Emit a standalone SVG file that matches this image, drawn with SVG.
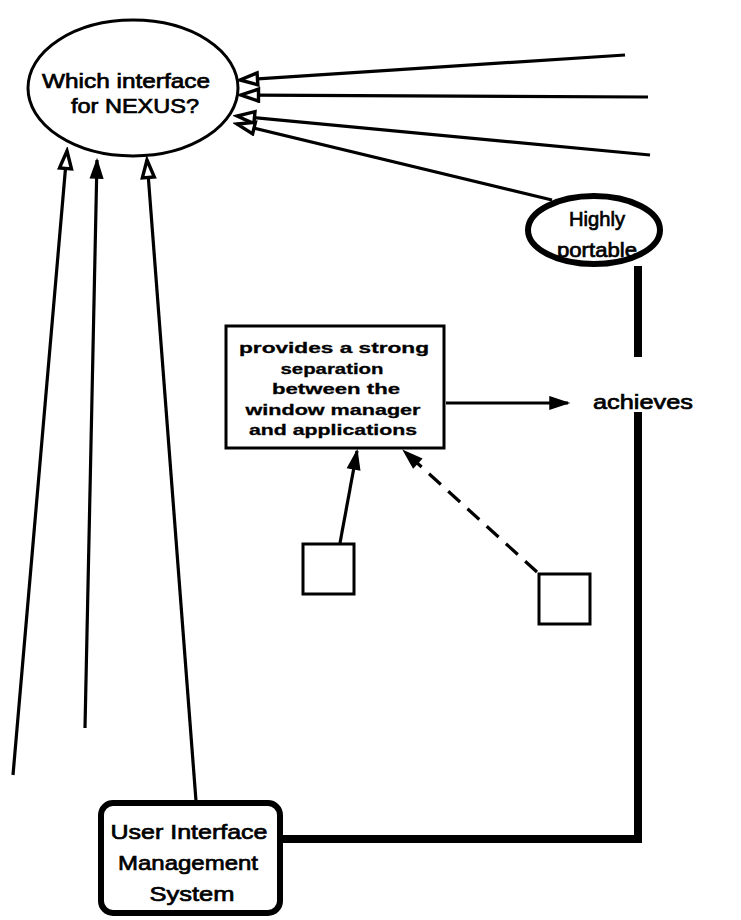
<svg xmlns="http://www.w3.org/2000/svg" width="741" height="920" viewBox="0 0 741 920">
  <style>
    .node { fill: #fff; stroke: #000; }
    .lbl { font-family: "Liberation Sans", Arial, sans-serif; fill: #000; text-anchor: middle; }
    .big { font-size: 21px; stroke: #000; stroke-width: 0.7; }
    .small { font-size: 15px; font-weight: bold; stroke: #000; stroke-width: 0.3; }
    .conn { fill: none; stroke: #000; stroke-width: 3.2; }
    .thick { fill: none; stroke: #000; stroke-width: 8; }
  </style>
  <defs>
    <marker id="hollow" markerUnits="userSpaceOnUse" markerWidth="24" markerHeight="18" refX="20" refY="8" orient="auto">
      <path d="M2.5,2 L20,8 L2.5,14 z" fill="#fff" stroke="#000" stroke-width="3.4"/>
    </marker>
    <marker id="solid" markerUnits="userSpaceOnUse" markerWidth="24" markerHeight="18" refX="20" refY="8" orient="auto">
      <path d="M2,2 L20,8 L2,14 z" fill="#000" stroke="#000" stroke-width="1.5"/>
    </marker>
  </defs>

  <!-- connectors -->
  <g id="connectors">
    <line class="conn" x1="625" y1="55" x2="240" y2="80" marker-end="url(#hollow)"/>
    <line class="conn" x1="648" y1="97" x2="241" y2="95" marker-end="url(#hollow)"/>
    <line class="conn" x1="650" y1="155" x2="237" y2="116" marker-end="url(#hollow)"/>
    <line class="conn" x1="552" y1="200" x2="237" y2="124" marker-end="url(#hollow)"/>
    <line class="conn" x1="13" y1="775" x2="67" y2="151" marker-end="url(#hollow)"/>
    <line class="conn" x1="85" y1="728" x2="97" y2="160" marker-end="url(#solid)"/>
    <line class="conn" x1="196" y1="801" x2="147" y2="160" marker-end="url(#hollow)"/>
    <line class="conn" x1="446" y1="403" x2="568" y2="403" marker-end="url(#solid)"/>
    <line class="conn" x1="340" y1="543" x2="357" y2="451" marker-end="url(#solid)"/>
    <line class="conn" x1="537" y1="572" x2="404" y2="451" stroke-dasharray="16 10" marker-end="url(#solid)"/>
    <path class="thick" d="M638,266 V357"/>
    <path class="thick" d="M638,412 V839 H282"/>
  </g>

  <g id="question">
    <ellipse class="node" cx="133" cy="88" rx="105" ry="68" stroke-width="3"/>
    <text class="lbl big" x="126" y="88" textLength="168" lengthAdjust="spacingAndGlyphs">Which interface</text>
    <text class="lbl big" x="135" y="113" textLength="128" lengthAdjust="spacingAndGlyphs">for NEXUS?</text>
  </g>

  <g id="portable">
    <ellipse class="node" cx="594" cy="230" rx="66" ry="34" stroke-width="6"/>
    <text class="lbl big" x="597" y="226" textLength="56" lengthAdjust="spacingAndGlyphs">Highly</text>
    <text class="lbl big" x="597" y="257" textLength="80" lengthAdjust="spacingAndGlyphs">portable</text>
  </g>

  <g id="achieves">
    <text class="lbl big" x="643" y="409" textLength="100" lengthAdjust="spacingAndGlyphs">achieves</text>
  </g>

  <g id="separation">
    <rect class="node" x="226" y="326" width="218" height="122" stroke-width="3"/>
    <text class="lbl small" x="334" y="353" textLength="190" lengthAdjust="spacingAndGlyphs">provides a strong</text>
    <text class="lbl small" x="332" y="374" textLength="103" lengthAdjust="spacingAndGlyphs">separation</text>
    <text class="lbl small" x="336" y="394" textLength="128" lengthAdjust="spacingAndGlyphs">between the</text>
    <text class="lbl small" x="333" y="415" textLength="175" lengthAdjust="spacingAndGlyphs">window manager</text>
    <text class="lbl small" x="333" y="435" textLength="168" lengthAdjust="spacingAndGlyphs">and applications</text>
  </g>

  <g id="box-left">
    <rect class="node" x="303" y="544" width="51" height="50" stroke-width="3"/>
  </g>

  <g id="box-right">
    <rect class="node" x="539" y="574" width="51" height="50" stroke-width="3"/>
  </g>

  <g id="uims">
    <rect class="node" x="101" y="803" width="179" height="110" rx="12" stroke-width="6"/>
    <text class="lbl big" x="189" y="839" textLength="157" lengthAdjust="spacingAndGlyphs">User Interface</text>
    <text class="lbl big" x="188" y="870" textLength="140" lengthAdjust="spacingAndGlyphs">Management</text>
    <text class="lbl big" x="192" y="901" textLength="85" lengthAdjust="spacingAndGlyphs">System</text>
  </g>
</svg>
